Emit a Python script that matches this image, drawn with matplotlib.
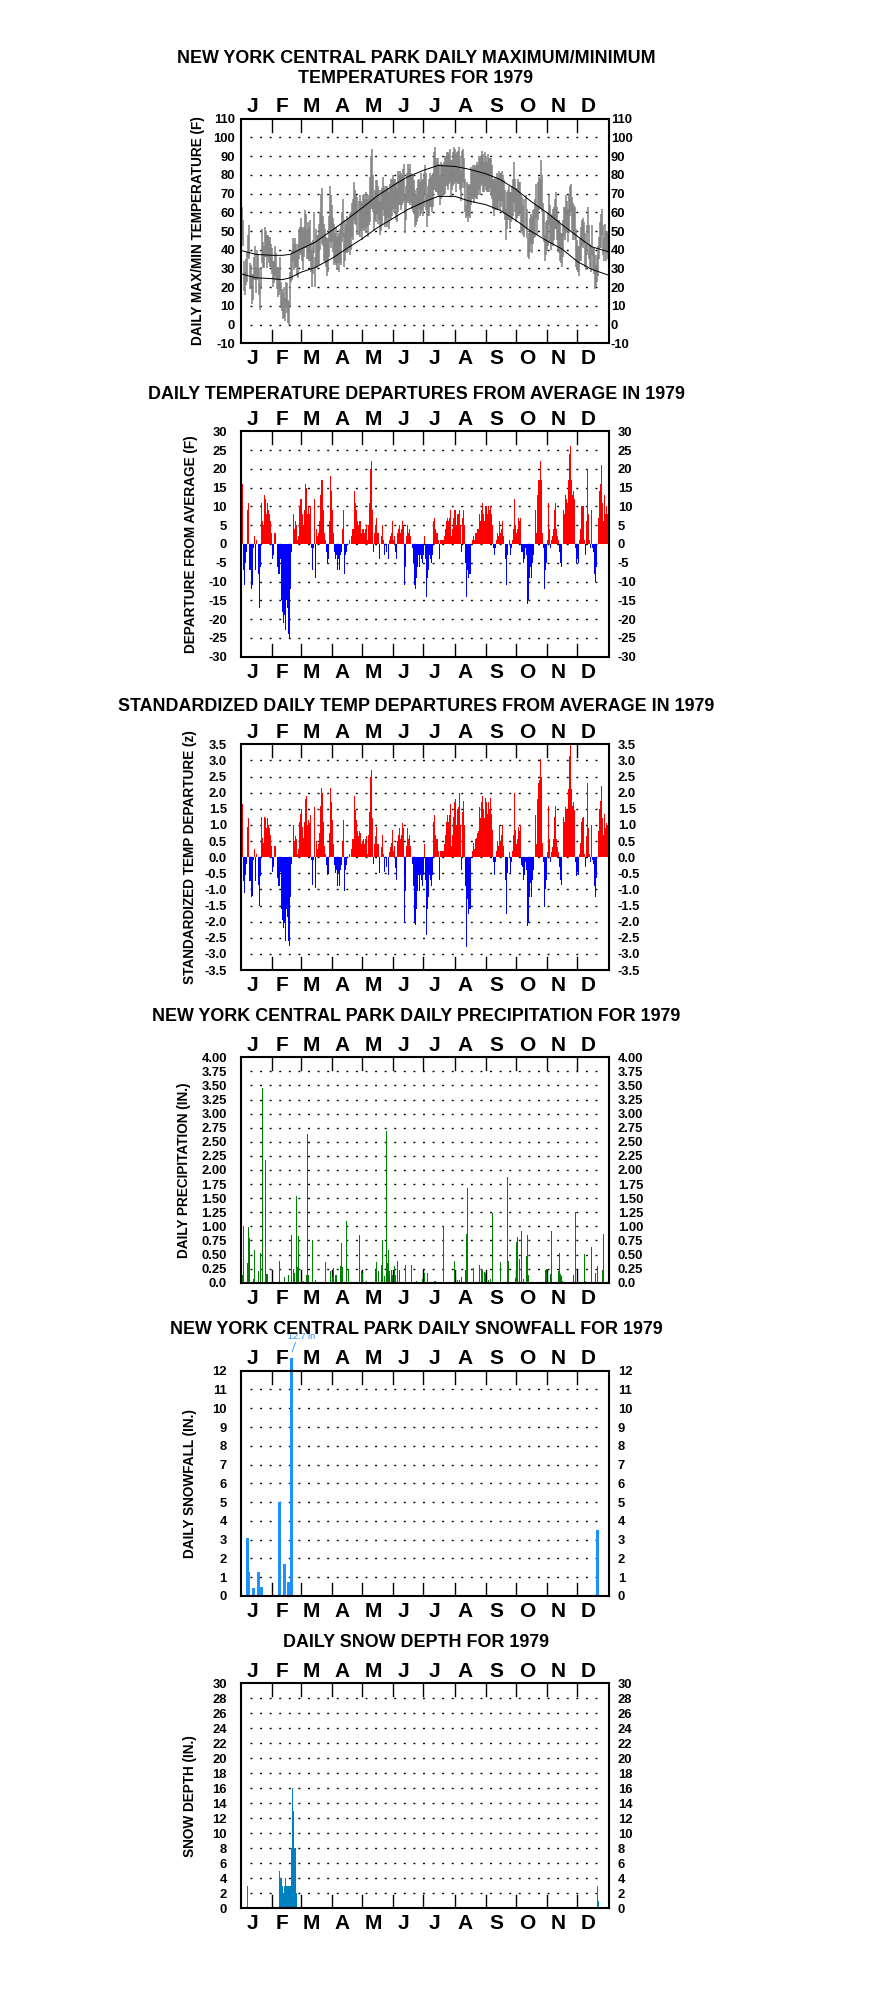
import numpy as np
import matplotlib
matplotlib.use("Agg")
import matplotlib.pyplot as plt

plt.rcParams["font.family"] = ["Liberation Sans", "DejaVu Sans"]
plt.rcParams["font.weight"] = "bold"
plt.rcParams["lines.scale_dashes"] = False

month_letters = ["J", "F", "M", "A", "M", "J", "J", "A", "S", "O", "N", "D"]
month_len = [31, 28, 31, 30, 31, 30, 31, 31, 30, 31, 30, 31]

# daily max / min temperature (F), one list per month
tmax_by_month = [
    [63, 56, 34, 28, 35, 39, 48, 53, 33, 32, 27, 27, 36, 42, 31, 40, 37, 30, 22, 31, 51, 44, 42, 52, 50, 48, 48, 47, 47, 43, 41],
    [34, 34, 42, 38, 31, 31, 30, 36, 23, 19, 17, 20, 14, 23, 22, 13, 12, 28, 37, 40, 46, 43, 46, 43, 40, 43, 51, 52],
    [57, 52, 51, 52, 61, 59, 51, 55, 52, 56, 44, 40, 45, 60, 36, 51, 48, 48, 54, 60, 70, 73, 58, 54, 51, 47, 46, 46, 58, 74, 69],
    [64, 57, 54, 49, 52, 47, 49, 48, 51, 54, 60, 67, 49, 56, 54, 58, 57, 57, 59, 60, 65, 67, 76, 72, 69, 68, 66, 69, 66, 65],
    [69, 70, 67, 71, 70, 67, 69, 79, 90, 94, 80, 68, 72, 77, 77, 74, 72, 66, 72, 73, 79, 74, 72, 74, 74, 73, 71, 75, 78, 78, 80],
    [78, 78, 76, 73, 82, 80, 82, 81, 80, 83, 86, 70, 74, 81, 86, 83, 86, 81, 80, 80, 77, 72, 69, 73, 77, 78, 76, 81, 77, 78],
    [81, 85, 81, 70, 74, 78, 81, 79, 80, 81, 92, 95, 89, 87, 89, 86, 80, 87, 86, 85, 87, 90, 90, 92, 92, 91, 94, 88, 88, 92, 95],
    [94, 91, 92, 93, 95, 90, 82, 93, 94, 89, 78, 64, 76, 75, 74, 75, 84, 83, 85, 85, 84, 85, 87, 85, 90, 89, 90, 93, 91, 87, 92],
    [90, 87, 91, 89, 89, 89, 85, 78, 78, 79, 77, 81, 79, 82, 81, 81, 82, 80, 77, 72, 62, 71, 72, 74, 71, 71, 74, 78, 87, 78],
    [73, 73, 78, 76, 76, 69, 68, 64, 67, 69, 62, 46, 49, 57, 59, 58, 61, 62, 67, 75, 64, 76, 79, 78, 88, 80, 65, 60, 48, 55, 56],
    [60, 69, 64, 58, 59, 62, 63, 67, 71, 63, 56, 56, 54, 49, 49, 56, 63, 63, 69, 66, 62, 69, 74, 75, 68, 65, 64, 63, 51, 45],
    [42, 42, 46, 52, 56, 57, 55, 49, 43, 53, 63, 53, 43, 42, 53, 41, 41, 37, 32, 37, 42, 47, 55, 59, 62, 53, 46, 54, 50, 50, 49],
]
tmin_by_month = [
    [45, 42, 18, 16, 21, 23, 36, 35, 19, 20, 11, 13, 24, 24, 17, 24, 25, 16, 8, 19, 33, 30, 30, 36, 36, 30, 36, 33, 31, 31, 27],
    [20, 22, 26, 24, 19, 15, 16, 18, 9, 7, 3, 4, 2, 9, 6, 1, 0, 10, 23, 24, 34, 29, 30, 31, 26, 25, 35, 38],
    [37, 34, 29, 36, 41, 41, 35, 35, 34, 34, 28, 20, 27, 38, 20, 31, 30, 32, 32, 40, 46, 43, 42, 34, 33, 31, 26, 28, 36, 44, 41],
    [44, 39, 32, 33, 32, 29, 33, 28, 33, 32, 44, 47, 31, 34, 38, 38, 39, 41, 37, 40, 47, 45, 56, 54, 53, 48, 48, 47, 50, 45],
    [51, 50, 51, 49, 52, 47, 53, 55, 62, 62, 60, 50, 56, 55, 59, 54, 56, 48, 50, 53, 61, 58, 52, 56, 52, 57, 51, 57, 56, 58, 62],
    [60, 62, 56, 55, 60, 64, 64, 61, 64, 65, 66, 49, 56, 65, 66, 65, 64, 65, 62, 60, 59, 52, 53, 55, 57, 62, 58, 59, 61, 58],
    [63, 69, 61, 52, 58, 58, 63, 63, 60, 63, 72, 72, 71, 71, 69, 68, 64, 67, 68, 69, 69, 70, 74, 74, 72, 75, 76, 68, 72, 74, 75],
    [76, 71, 76, 75, 75, 72, 66, 73, 76, 73, 60, 57, 58, 55, 58, 57, 64, 67, 67, 65, 68, 67, 67, 69, 72, 69, 74, 75, 71, 71, 74],
    [72, 71, 71, 71, 73, 69, 67, 62, 58, 61, 61, 61, 61, 66, 61, 63, 66, 60, 59, 56, 45, 51, 56, 56, 51, 55, 56, 58, 65, 60],
    [55, 57, 58, 58, 60, 49, 50, 48, 47, 51, 46, 36, 35, 39, 43, 38, 43, 46, 47, 57, 48, 56, 61, 62, 62, 60, 47, 44, 34, 37, 40],
    [42, 53, 44, 40, 43, 42, 45, 51, 51, 45, 40, 38, 34, 33, 31, 36, 47, 45, 49, 50, 44, 49, 58, 60, 50, 45, 48, 45, 31, 29],
    [28, 26, 34, 34, 42, 41, 43, 31, 29, 37, 49, 35, 31, 28, 37, 29, 27, 19, 20, 23, 26, 35, 41, 41, 48, 37, 34, 40, 34, 38, 35],
]

# normal max / min curves, read at roughly half-month steps
norm_days = [0, 14, 31, 40, 48, 59, 73, 90, 104, 120, 134, 151, 165, 181, 195, 212, 226, 243, 257, 273, 287, 304, 318, 334, 348, 364]
norm_max = [39.5, 37.5, 37, 37, 37.5, 40.5, 44, 50.5, 56, 62.5, 68.5, 74.5, 79, 82.5, 85, 84.5, 83, 80.5, 77.5, 72, 66, 59.5, 53.5, 47, 41.5, 39]
norm_min = [27, 25, 24.5, 24, 25, 28, 30.5, 35.5, 40.5, 46, 51.5, 57, 61.5, 65.5, 68.5, 68.5, 66, 64, 61, 55.5, 50, 44.5, 40.5, 33.5, 29.5, 26.5]

# daily departure from average (F)
dep_by_month = [
    [21, 16, -7, -11, -5, -2, 9, 11, -7, -7, -12, -11, -1, 2, -7, 1, 0, -8, -17, -6, 11, 6, 5, 13, 12, 8, 11, 9, 8, 6, 3],
    [-4, -3, 3, 0, -6, -8, -8, -4, -15, -18, -21, -19, -23, -15, -17, -24, -25, -12, -2, 0, 8, 4, 6, 5, 1, 2, 10, 12],
    [12, 8, 5, 9, 16, 15, 8, 10, 8, 10, -1, -7, -1, 12, -9, 4, 2, 3, 6, 13, 17, 17, 9, 3, 1, -2, -5, -4, 6, 18, 14],
    [9, 3, -2, -4, -3, -7, -4, -7, -3, -2, 4, 9, -8, -3, -2, 0, 0, 1, 0, 2, 4, 4, 14, 11, 9, 6, 5, 6, 6, 3],
    [4, 4, 3, 4, 5, 1, 5, 11, 20, 22, 9, -2, 3, 5, 7, 3, 3, -4, 0, 2, 5, 1, -3, 0, -2, 0, -4, 1, 2, 3, 6],
    [1, 2, -2, -4, 3, 4, 5, 3, 4, 6, 5, -11, -6, 2, 5, 3, 4, 2, 0, -1, -5, -11, -12, -9, -6, -3, -6, -3, -4, -5],
    [-3, 2, -4, -14, -9, -7, -3, -4, -5, -3, 6, 7, 4, 3, 3, 1, -4, 1, 1, 1, 2, 4, 6, 7, 6, 7, 9, 2, 4, 7, 9],
    [9, 5, 8, 8, 9, 5, -2, 7, 9, 5, -5, -14, -7, -9, -8, -8, 0, 1, 2, 1, 3, 3, 4, 4, 8, 6, 9, 11, 8, 6, 10],
    [10, 8, 10, 9, 10, 8, 5, -1, -3, -1, 1, 3, 2, 6, 3, 4, 6, 2, 0, -4, -11, -3, 0, 1, -3, -1, 1, 4, 12, 5],
    [3, 4, 7, 6, 7, -2, -2, -5, -4, -1, -3, -16, -15, -9, -6, -9, -5, -3, 0, 9, 3, 13, 17, 17, 22, 17, 3, -1, -12, -7, -5],
    [1, 11, 4, -1, 1, 2, 4, 9, 11, 4, 2, 1, -2, -5, -6, 0, 9, 8, 13, 12, 11, 17, 24, 26, 17, 13, 14, 12, -1, -5],
    [-4, -5, 1, 4, 10, 10, 10, 1, -3, 6, 20, 8, 1, -1, 9, -1, -2, -8, -10, -6, 0, 7, 14, 16, 21, 11, 6, 13, 8, 10, 8],
]

# standardized departures (z)
z_by_month = [
    [2.35, 1.65, -0.75, -1.1, -0.55, -0.2, 0.95, 1.2, -0.75, -0.75, -1.25, -1.2, -0.1, 0.25, -0.75, 0.1, 0.0, -0.85, -1.5, -0.6, 1.25, 0.6, 0.45, 1.25, 1.2, 0.9, 1.2, 1.0, 0.9, 0.7, 0.35],
    [-0.45, -0.3, 0.35, 0.0, -0.65, -0.9, -0.9, -0.45, -1.6, -1.95, -2.2, -2.05, -2.6, -1.6, -1.85, -2.6, -2.75, -1.25, -0.2, 0.0, 1.0, 0.5, 0.65, 0.55, 0.1, 0.25, 1.1, 1.35],
    [1.5, 0.95, 0.6, 1.1, 1.8, 1.9, 1.0, 1.15, 1.05, 1.3, -0.1, -0.85, -0.1, 1.55, -0.95, 0.5, 0.25, 0.4, 0.75, 1.6, 2.15, 2.0, 1.1, 0.35, 0.1, -0.25, -0.55, -0.5, 0.75, 2.15, 1.7],
    [1.15, 0.4, -0.25, -0.5, -0.4, -0.9, -0.5, -0.9, -0.4, -0.25, 0.5, 1.15, -1.05, -0.4, -0.25, 0.0, 0.0, 0.1, 0.0, 0.25, 0.55, 0.55, 1.9, 1.45, 1.15, 0.8, 0.65, 0.8, 0.75, 0.4],
    [0.5, 0.55, 0.4, 0.55, 0.65, 0.1, 0.7, 1.4, 2.5, 2.7, 1.2, -0.2, 0.4, 0.65, 0.95, 0.4, 0.4, -0.5, 0.0, 0.3, 0.7, 0.1, -0.45, 0.0, -0.3, 0.0, -0.55, 0.15, 0.3, 0.45, 0.85],
    [0.2, 0.35, -0.35, -0.7, 0.5, 0.7, 0.9, 0.55, 0.7, 1.05, 0.9, -2.05, -1.05, 0.35, 0.9, 0.55, 0.7, 0.35, 0.0, -0.2, -0.9, -2.0, -2.1, -1.6, -1.05, -0.55, -1.05, -0.55, -0.7, -0.9],
    [-0.55, 0.4, -0.7, -2.4, -1.6, -1.25, -0.55, -0.7, -0.9, -0.55, 1.1, 1.3, 0.7, 0.55, 0.55, 0.2, -0.7, 0.2, 0.2, 0.2, 0.4, 0.7, 1.1, 1.3, 1.1, 1.3, 1.65, 0.35, 0.7, 1.25, 1.7],
    [1.8, 1.0, 1.5, 1.55, 2.0, 1.0, -0.4, 1.4, 1.75, 1.0, -0.9, -2.8, -1.3, -1.75, -1.6, -1.6, 0.0, 0.2, 0.45, 0.25, 0.55, 0.6, 0.75, 0.8, 1.55, 1.2, 1.7, 1.9, 1.5, 1.2, 1.85],
    [1.7, 1.35, 1.7, 1.5, 1.85, 1.35, 0.85, -0.15, -0.55, -0.15, 0.2, 0.5, 0.35, 1.0, 0.5, 0.7, 1.0, 0.35, 0.0, -0.7, -1.75, -0.5, 0.0, 0.15, -0.5, -0.15, 0.2, 0.7, 2.0, 0.85],
    [0.4, 0.55, 0.95, 0.8, 1.0, -0.25, -0.3, -0.7, -0.55, -0.15, -0.4, -2.15, -2.05, -1.25, -0.8, -1.25, -0.7, -0.4, 0.0, 1.3, 0.4, 1.8, 2.3, 2.4, 3.05, 2.5, 0.45, -0.15, -1.55, -1.0, -0.7],
    [0.15, 1.6, 0.55, -0.15, 0.15, 0.3, 0.55, 1.25, 1.6, 0.55, 0.3, 0.15, -0.3, -0.7, -0.85, 0.0, 1.25, 1.1, 1.55, 1.5, 1.45, 2.1, 3.15, 3.5, 2.1, 1.6, 1.7, 1.45, -0.15, -0.6],
    [-0.45, -0.55, 0.1, 0.45, 1.1, 1.2, 1.25, 0.1, -0.3, 0.65, 2.3, 0.9, 0.1, -0.15, 1.0, -0.1, -0.2, -0.9, -1.25, -0.65, 0.0, 0.8, 1.5, 1.75, 2.2, 1.2, 0.7, 1.35, 0.9, 1.05, 1.0],
]

# precipitation (in.), day of year (0 = Jan 1) and amount
precip_days = [0, 1, 5, 6, 7, 11, 12, 16, 18, 20, 23, 24, 25, 37, 42, 46, 49, 51, 52, 54, 55, 56, 61, 64, 65, 66, 70, 73,
               83, 88, 90, 91, 93, 94, 98, 99, 100, 104, 106, 116, 118, 119, 123, 132, 133, 135, 138, 139, 141, 143, 144,
               145, 146, 148, 149, 151, 152, 154, 156, 162, 168, 173, 179, 181, 184, 191, 192, 200, 211, 214, 216, 218,
               222, 223, 224, 230, 236, 238, 239, 241, 242, 245, 247, 249, 257, 264, 265, 272, 273, 274, 276, 278, 280,
               282, 283, 284, 301, 302, 306, 307, 314, 315, 316, 317, 318, 329, 331, 340, 341, 347, 351, 353, 358, 359]
precip_vals = [0.14, 1.01, 0.35, 0.98, 0.80, 0.07, 0.58, 0.21, 0.52, 3.46, 2.18, 0.16, 0.16, 0.39, 0.11, 0.14, 0.85, 0.25,
               0.18, 1.54, 0.28, 0.82, 0.03, 0.14, 2.64, 0.13, 0.76, 0.04,
               0.37, 0.21, 0.11, 0.26, 0.13, 0.14, 0.29, 0.70, 0.28, 1.10, 0.25, 0.85, 0.20, 0.18, 0.03, 0.22, 0.36, 0.20,
               0.32, 0.75, 0.12, 2.70, 0.35, 0.58, 0.20, 0.22, 0.13, 0.30, 0.14, 0.38, 0.23, 0.32, 0.32, 0.03, 0.06, 0.17,
               0.17, 0.03, 0.03, 1.01, 0.38, 0.05, 0.05, 0.11, 0.23, 0.87, 1.68, 0.26, 0.32, 0.24, 0.22, 0.19, 0.18, 0.05,
               0.06, 1.23, 0.37, 1.87, 0.38, 0.09, 0.72, 0.81, 0.42, 0.92, 0.06, 0.47, 0.85, 0.14, 0.23, 0.24, 0.16, 0.92,
               0.20, 0.52, 0.15, 0.12, 0.03, 0.14, 1.26, 0.51, 0.03, 0.64, 0.17, 0.30, 0.22, 0.87]

# snowfall (in.)
snow_days = [5, 6, 11, 16, 19, 37, 42, 46, 49, 353]
snow_vals = [3.1, 1.3, 0.4, 1.3, 0.5, 5.0, 1.7, 0.75, 12.7, 3.5]

# snow depth (in.)
depth_days = [6, 37, 38, 39, 40, 41, 42, 43, 44, 45, 46, 47, 48, 49, 50, 51, 52, 53, 54, 354, 355]
depth_vals = [3, 5, 4, 4, 3, 2, 3, 4, 3, 3, 3, 3, 3, 8, 16, 13, 8, 8, 2, 3, 1]

tmax = np.array(sum(tmax_by_month, []))
tmin = np.array(sum(tmin_by_month, []))
dep = np.array(sum(dep_by_month, []))
zdep = np.array(sum(z_by_month, []))
days = np.arange(365) + 0.5

W, H = 883, 1989
fig = plt.figure(figsize=(W / 100, H / 100), dpi=100)
AX_L, AX_R = 241.3, 608.5
month_start = np.concatenate([[0], np.cumsum(month_len)[:-1]])


def panel(top, bottom, ylim, ticks, labels, ylabel, ylab_x, pad_l=14.5, pad_r=9.4):
    h = bottom - top
    w = AX_R - AX_L
    ax = fig.add_axes([AX_L / W, 1 - bottom / H, w / W, h / H])
    ax.set_xlim(0, 365)
    ax.set_ylim(*ylim)
    ax.set_xticks([])
    ax.set_yticks([])
    for s in ax.spines.values():
        s.set_linewidth(1.5)
    ytr = ax.get_yaxis_transform()
    for v, lab in zip(ticks, labels):
        ax.text(-pad_l / w, v, lab, transform=ytr, ha="right", va="center_baseline", fontsize=9.4)
        ax.text(1 + pad_r / w, v, lab, transform=ytr, ha="left", va="center_baseline", fontsize=9.4)
    grid = ticks[1:-1]
    ax.hlines(grid, 9, 357, colors="k", linewidth=1.0, linestyles=[(0, (1.4, 5.5))], zorder=0.5)
    xtr = ax.get_xaxis_transform()
    for b in month_start[1:]:
        ax.plot([b, b], [1, 1 - 13 / h], transform=xtr, color="k", lw=1.0)
        ax.plot([b, b], [0, 13 / h], transform=xtr, color="k", lw=1.0)
    for i, m in enumerate(month_letters):
        xc = month_start[i] + 0.35 * month_len[i]
        ax.text(xc, 1 + 6.2 / h, m, transform=xtr, ha="center", va="baseline", fontsize=15)
        ax.text(xc, -20.8 / h, m, transform=xtr, ha="center", va="baseline", fontsize=15)
    fig.text(ylab_x / W, 1 - (top + bottom) / 2 / H, ylabel, rotation=90, ha="center", va="center", fontsize=9.8)
    return ax


def title(text, baseline):
    fig.text(416 / W, 1 - baseline / H, text, ha="center", va="baseline", fontsize=12.9)


# 1: max / min temperatures
t = list(range(-10, 111, 10))
ax1 = panel(118.7, 343.3, (-10, 110), t, [str(v) for v in t], "DAILY MAX/MIN TEMPERATURE (F)", 198, pad_l=6.3, pad_r=2.4)
ax1.vlines(days, tmin, tmax, color="#808080", linewidth=1.1, zorder=2)
ax1.plot(np.array(norm_days) + 0.5, norm_max, color="k", lw=0.72, zorder=3)
ax1.plot(np.array(norm_days) + 0.5, norm_min, color="k", lw=0.72, zorder=3)
title("NEW YORK CENTRAL PARK DAILY MAXIMUM/MINIMUM", 62.7)
title("TEMPERATURES FOR 1979", 83.3)

# 2: departures
t = list(range(-30, 31, 5))
ax2 = panel(431.3, 656.7, (-30, 30), t, [str(v) for v in t], "DEPARTURE FROM AVERAGE (F)", 191)
ax2.bar(days, dep, width=1.0, color=np.where(dep > 0, "#ff0000", "#0000ff"), linewidth=0, zorder=2)
title("DAILY TEMPERATURE DEPARTURES FROM AVERAGE IN 1979", 399.3)

# 3: standardized departures
t = [v / 2 for v in range(-7, 8)]
ax3 = panel(744.3, 970, (-3.5, 3.5), t, [f"{v:.1f}" for v in t], "STANDARDIZED TEMP DEPARTURE (z)", 190)
ax3.bar(days, zdep, width=1.0, color=np.where(zdep > 0, "#ff0000", "#0000ff"), linewidth=0, zorder=2)
title("STANDARDIZED DAILY TEMP DEPARTURES FROM AVERAGE IN 1979", 710.7)

# 4: precipitation
t = [v / 4 for v in range(0, 17)]
ax4 = panel(1057.3, 1282.7, (0, 4), t, ["0.0"] + [f"{v:.2f}" for v in t[1:]], "DAILY PRECIPITATION (IN.)", 184)
ax4.vlines(np.array(precip_days) + 0.5, 0, precip_vals, color="#008000", linewidth=0.72, antialiased=False, zorder=2)
title("NEW YORK CENTRAL PARK DAILY PRECIPITATION FOR 1979", 1020.7)

# 5: snowfall
t = list(range(0, 13))
ax5 = panel(1370.7, 1596, (0, 12), t, [str(v) for v in t], "DAILY SNOWFALL (IN.)", 190)
ax5.vlines(np.array(snow_days) + 0.5, 0, snow_vals, color="#1e90ff", linewidth=0.8, antialiased=False,
           clip_on=False, zorder=2)
ax5.plot([50.5, 53.8], [13.0, 13.5], color="#1e90ff", lw=0.6, clip_on=False)
ax5.text(60, 13.82, "12.7 in", color="#1e90ff", fontsize=6.5, fontweight="normal", ha="center", va="center")
title("NEW YORK CENTRAL PARK DAILY SNOWFALL FOR 1979", 1334)

# 6: snow depth
t = list(range(0, 31, 2))
ax6 = panel(1683.3, 1908.3, (0, 30), t, [str(v) for v in t], "SNOW DEPTH (IN.)", 190)
ax6.bar(np.array(depth_days) + 0.5, depth_vals, width=1.0, color="#0080c0", linewidth=0, zorder=2)
title("DAILY SNOW DEPTH FOR 1979", 1647.3)

fig.savefig("out.png", dpi=100)
